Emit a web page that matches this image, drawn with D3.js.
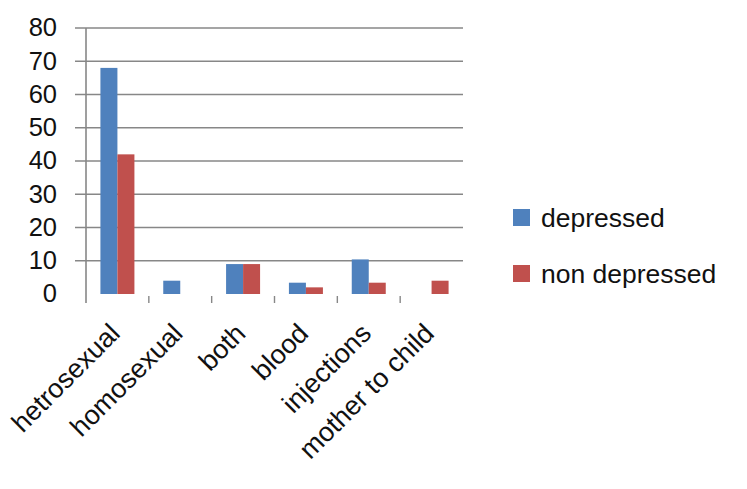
<!DOCTYPE html>
<head>
  <meta charset="utf-8">
  <script src="https://d3js.org/d3.v7.min.js"></script>
  <style>
    body { margin:0; background:#fff; }
    text { font-family: "Liberation Sans", Arial, sans-serif; fill:#111; }
  </style>
</head>
<body>
<script>
  var categories = ["hetrosexual", "homosexual", "both", "blood", "injections", "mother to child"];
  var seriesNames = ["depressed", "non depressed"];
  var depressed = [68, 4, 9, 3.4, 10.4, 0];
  var nonDepressed = [42, 0, 9, 2, 3.4, 4];
  var yTicks = [0, 10, 20, 30, 40, 50, 60, 70, 80];
  var colors = ["#4F81BD", "#C0504D"];

  var width = 747, height = 489;

  var svg = d3.select("body").append("svg")
    .attr("width", width)
    .attr("height", height);

  var x0 = d3.scaleBand().domain(categories).range([86, 463]);
  var x1 = d3.scaleBand().domain(seriesNames)
    .range([x0.bandwidth() / 2 - 17, x0.bandwidth() / 2 + 17]);
  var y = d3.scaleLinear().domain([0, 80]).range([294, 28]);
  var color = d3.scaleOrdinal().domain(seriesNames).range(colors);

  // gridlines (skip zero)
  svg.selectAll("line.grid")
    .data(yTicks.filter(function(d) { return d > 0; }))
    .enter().append("line")
    .attr("x1", 75).attr("x2", 463)
    .attr("y1", function(d) { return y(d); })
    .attr("y2", function(d) { return y(d); })
    .attr("stroke", "#878787")
    .attr("stroke-width", 1.6);

  // y labels
  svg.selectAll("text.ylab")
    .data(yTicks)
    .enter().append("text")
    .attr("x", 57)
    .attr("y", function(d) { return y(d); })
    .attr("dy", "0.33em")
    .attr("text-anchor", "end")
    .style("font-size", "25.5px")
    .text(function(d) { return d; });

  // vertical axis
  svg.append("line")
    .attr("x1", 86).attr("x2", 86)
    .attr("y1", 28).attr("y2", 303)
    .attr("stroke", "#878787").attr("stroke-width", 1.6);

  // category ticks
  svg.selectAll("line.ctick")
    .data(categories.slice(1))
    .enter().append("line")
    .attr("x1", function(d) { return x0(d); })
    .attr("x2", function(d) { return x0(d); })
    .attr("y1", 296).attr("y2", 303)
    .attr("stroke", "#878787").attr("stroke-width", 1.4);

  // bars
  var rows = categories.map(function(c, i) {
    return { cat: c, vals: [
      { key: seriesNames[0], v: depressed[i] },
      { key: seriesNames[1], v: nonDepressed[i] }
    ] };
  });

  var groups = svg.selectAll("g.cat")
    .data(rows)
    .enter().append("g")
    .attr("transform", function(d) { return "translate(" + x0(d.cat) + ",0)"; });

  groups.selectAll("rect")
    .data(function(d) { return d.vals.filter(function(e) { return e.v > 0; }); })
    .enter().append("rect")
    .attr("x", function(d) { return x1(d.key); })
    .attr("width", x1.bandwidth())
    .attr("y", function(d) { return y(d.v); })
    .attr("height", function(d) { return y(0) - y(d.v); })
    .attr("fill", function(d) { return color(d.key); });

  // x labels
  svg.selectAll("text.xlab")
    .data(categories)
    .enter().append("text")
    .attr("text-anchor", "end")
    .style("font-size", "27px")
    .attr("transform", function(d) {
      return "translate(" + (x0(d) + x0.bandwidth() / 2 + 4) + ",335) rotate(-45)";
    })
    .text(function(d) { return d; });

  // legend
  var legend = svg.selectAll("g.legend")
    .data(seriesNames)
    .enter().append("g")
    .attr("transform", function(d, i) { return "translate(513," + (209 + i * 56) + ")"; });

  legend.append("rect")
    .attr("width", 17).attr("height", 17)
    .attr("fill", function(d) { return color(d); });

  legend.append("text")
    .attr("x", 28).attr("y", 18)
    .style("font-size", "26.5px")
    .text(function(d) { return d; });
</script>
</body>
